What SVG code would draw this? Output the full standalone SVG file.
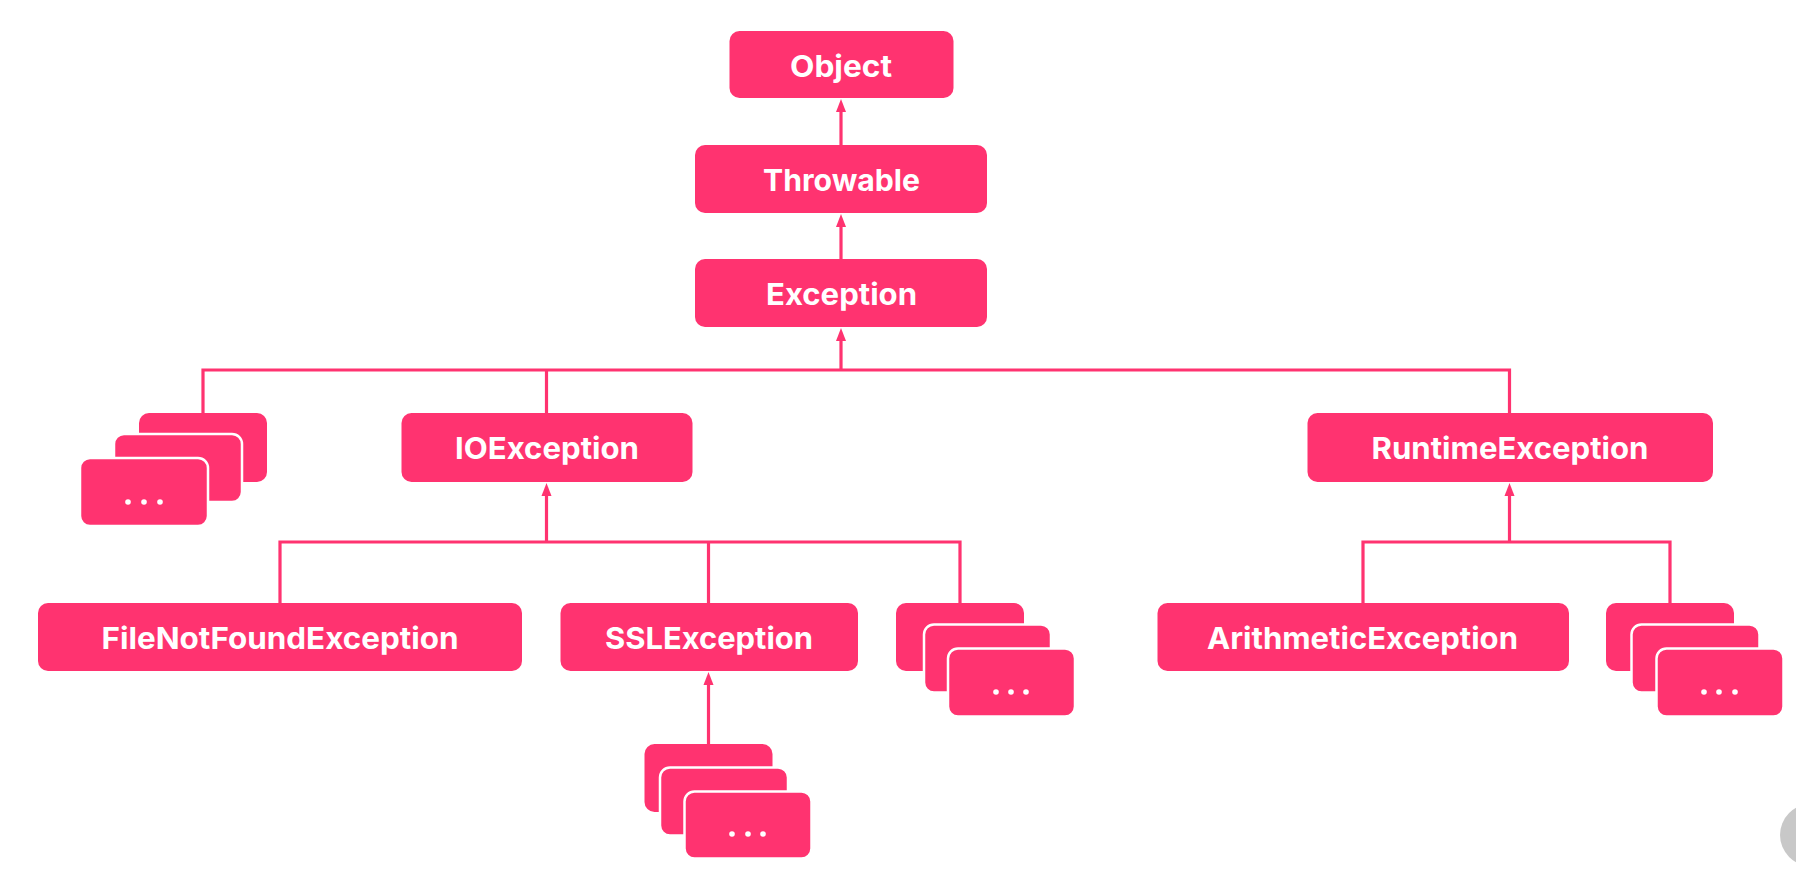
<svg xmlns="http://www.w3.org/2000/svg" width="1796" height="881" viewBox="0 0 1796 881">
<style>
.box{fill:#FF3370;}
.sb{fill:#FF3370;stroke:#ffffff;stroke-width:2.5;}
.lbl{font-family:Inter,"Noto Sans","Liberation Sans",sans-serif;font-weight:700;font-size:30px;fill:#ffffff;text-anchor:middle;}
.ln{fill:none;stroke:#FF3370;stroke-width:3.2;}
.dot{fill:#ffffff;}
</style>
<defs>
<marker id="ah" markerUnits="userSpaceOnUse" markerWidth="13" markerHeight="11" viewBox="0 0 13 11" refX="1" refY="5.5" orient="auto">
<path d="M0,0.5 L13,5.5 L0,10.5 Z" fill="#FF3370"/>
</marker>
</defs>
<rect width="1796" height="881" fill="#ffffff"/>
<g id="connectors">
<line class="ln" x1="841" y1="145" x2="841" y2="111" marker-end="url(#ah)"/>
<line class="ln" x1="841" y1="259" x2="841" y2="226" marker-end="url(#ah)"/>
<line class="ln" x1="841" y1="370" x2="841" y2="340" marker-end="url(#ah)"/>
<polyline class="ln" points="203,413 203,370 1509.5,370 1509.5,413"/>
<line class="ln" x1="546.5" y1="370" x2="546.5" y2="413"/>
<line class="ln" x1="546.5" y1="542" x2="546.5" y2="495" marker-end="url(#ah)"/>
<polyline class="ln" points="280,603 280,542 960,542 960,603"/>
<line class="ln" x1="708.5" y1="542" x2="708.5" y2="603"/>
<line class="ln" x1="1509.5" y1="542" x2="1509.5" y2="495" marker-end="url(#ah)"/>
<polyline class="ln" points="1363,603 1363,542 1670,542 1670,603"/>
<line class="ln" x1="708.5" y1="744" x2="708.5" y2="684" marker-end="url(#ah)"/>
</g>
<g id="object">
<rect class="box" x="729.5" y="31" width="224" height="67" rx="10"/>
<text class="lbl" x="841" y="77" textLength="102" lengthAdjust="spacingAndGlyphs">Object</text>
</g>
<g id="throwable">
<rect class="box" x="695" y="145" width="292" height="68" rx="10"/>
<text class="lbl" x="841.5" y="191" textLength="157" lengthAdjust="spacingAndGlyphs">Throwable</text>
</g>
<g id="exception">
<rect class="box" x="695" y="259" width="292" height="68" rx="10"/>
<text class="lbl" x="841.5" y="305" textLength="151" lengthAdjust="spacingAndGlyphs">Exception</text>
</g>
<g id="stack-left">
<rect class="box" x="139" y="413" width="128" height="69" rx="10"/>
<rect class="sb" x="114" y="434" width="128" height="68" rx="10"/>
<rect class="sb" x="80" y="458" width="128" height="68" rx="10"/>
<circle class="dot" cx="128" cy="502" r="2.8"/>
<circle class="dot" cx="144" cy="502" r="2.8"/>
<circle class="dot" cx="160" cy="502" r="2.8"/>
</g>
<g id="ioexception">
<rect class="box" x="401.5" y="413" width="291" height="69" rx="10"/>
<text class="lbl" x="547" y="459" textLength="184" lengthAdjust="spacingAndGlyphs">IOException</text>
</g>
<g id="runtimeexception">
<rect class="box" x="1307.5" y="413" width="405.5" height="69" rx="10"/>
<text class="lbl" x="1510" y="459" textLength="277" lengthAdjust="spacingAndGlyphs">RuntimeException</text>
</g>
<g id="filenotfoundexception">
<rect class="box" x="38" y="603" width="484" height="68" rx="10"/>
<text class="lbl" x="280" y="649" textLength="357" lengthAdjust="spacingAndGlyphs">FileNotFoundException</text>
</g>
<g id="sslexception">
<rect class="box" x="560.5" y="603" width="297.5" height="68" rx="10"/>
<text class="lbl" x="709" y="649" textLength="208" lengthAdjust="spacingAndGlyphs">SSLException</text>
</g>
<g id="stack-io">
<rect class="box" x="896" y="603" width="128" height="68" rx="10"/>
<rect class="sb" x="924" y="624.5" width="127" height="68" rx="10"/>
<rect class="sb" x="948" y="648.5" width="127" height="68" rx="10"/>
<circle class="dot" cx="996" cy="692" r="2.8"/>
<circle class="dot" cx="1011" cy="692" r="2.8"/>
<circle class="dot" cx="1026" cy="692" r="2.8"/>
</g>
<g id="arithmeticexception">
<rect class="box" x="1157.5" y="603" width="411.5" height="68" rx="10"/>
<text class="lbl" x="1362.5" y="649" textLength="311" lengthAdjust="spacingAndGlyphs">ArithmeticException</text>
</g>
<g id="stack-runtime">
<rect class="box" x="1606" y="603" width="128" height="68" rx="10"/>
<rect class="sb" x="1631.5" y="624.5" width="128" height="68" rx="10"/>
<rect class="sb" x="1656.5" y="648.5" width="127" height="68" rx="10"/>
<circle class="dot" cx="1704" cy="692" r="2.8"/>
<circle class="dot" cx="1719" cy="692" r="2.8"/>
<circle class="dot" cx="1735" cy="692" r="2.8"/>
</g>
<g id="stack-ssl">
<rect class="box" x="644.5" y="744" width="128" height="68" rx="10"/>
<rect class="sb" x="660" y="767.5" width="128" height="68" rx="10"/>
<rect class="sb" x="684.5" y="791.5" width="127" height="67" rx="10"/>
<circle class="dot" cx="732" cy="834" r="2.8"/>
<circle class="dot" cx="748" cy="834" r="2.8"/>
<circle class="dot" cx="763" cy="834" r="2.8"/>
</g>
<circle cx="1811" cy="835" r="31" fill="#c8c8c8"/>
</svg>
